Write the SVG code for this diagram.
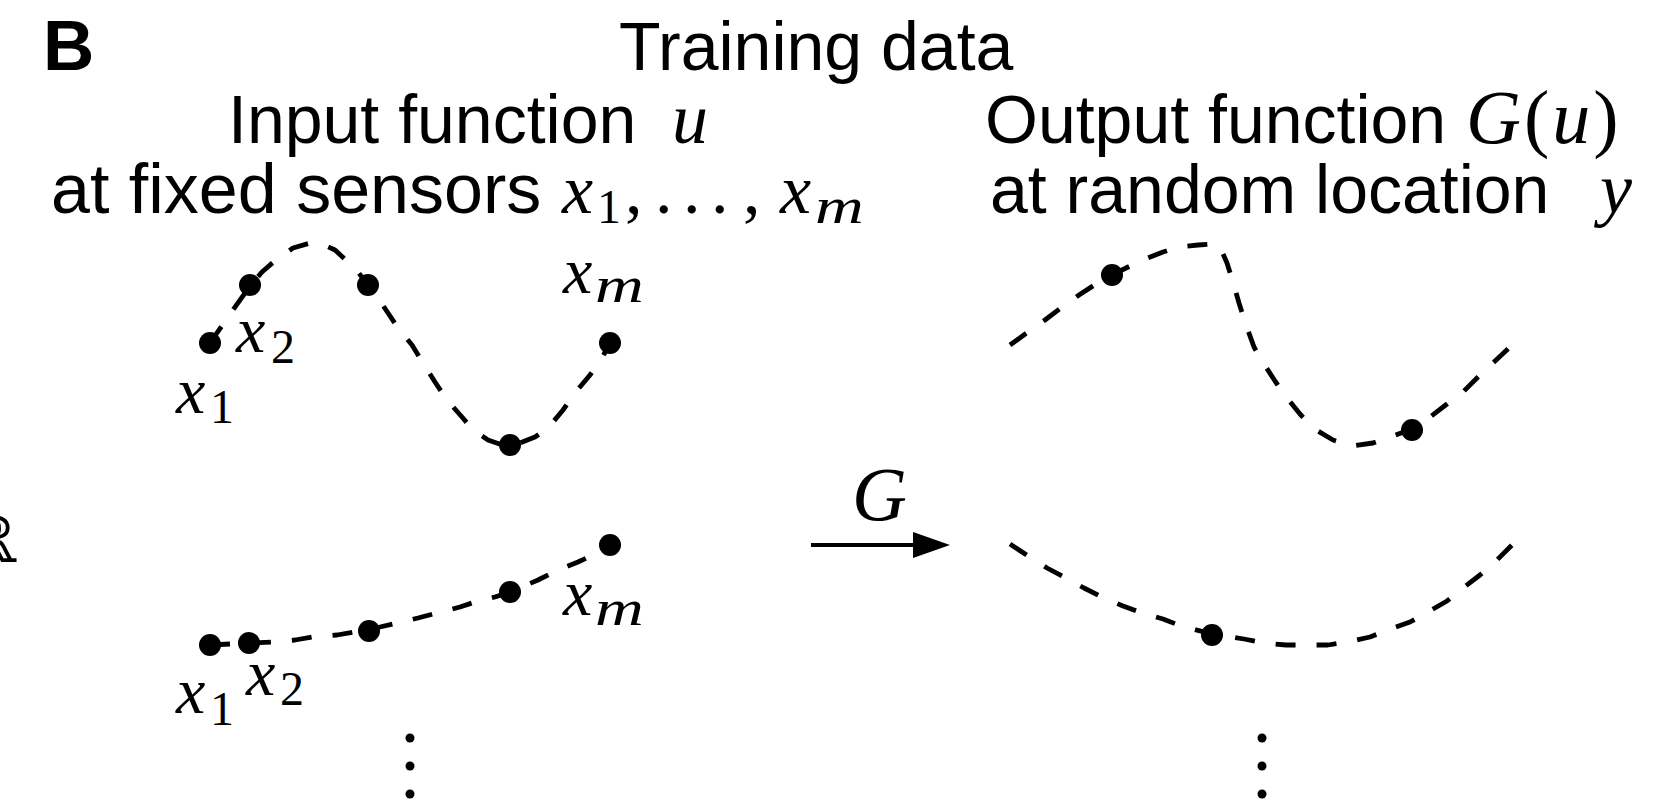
<svg xmlns="http://www.w3.org/2000/svg" width="1670" height="802" viewBox="0 0 1670 802">
<style>
.sans{font-family:"Liberation Sans",Arial,sans-serif;fill:#000}
.math{font-family:"Liberation Serif","Times New Roman",serif;font-style:italic;fill:#000}
.rm{font-family:"Liberation Serif","Times New Roman",serif;font-style:normal;fill:#000}
.curve{fill:none;stroke:#000;stroke-width:4.8;stroke-dasharray:20 21;stroke-linejoin:round}
.dot{fill:#000}
</style>
<rect width="1670" height="802" fill="#fff"/>
<g id="headings">
<text class="sans" x="43" y="70" font-size="71" font-weight="bold">B</text>
<text class="sans" x="619" y="70" font-size="68">Training data</text>
<text class="sans" x="228" y="143" font-size="68">Input function</text>
<text class="math" x="672" y="143" font-size="72">u</text>
<text class="sans" x="51" y="213" font-size="70">at fixed sensors</text>
<text class="math" x="562" y="213" font-size="70">x</text>
<text class="rm" x="597" y="223" font-size="48">1</text>
<text class="rm" x="625" y="213" font-size="70">,</text>
<text class="rm" x="655" y="213" font-size="70">.</text>
<text class="rm" x="683" y="213" font-size="70">.</text>
<text class="rm" x="711" y="213" font-size="70">.</text>
<text class="rm" x="743" y="213" font-size="70">,</text>
<text class="math" x="780" y="213" font-size="70">x</text>
<text class="math" transform="translate(815,223) scale(1.35,1)" font-size="50">m</text>
<text class="sans" x="985" y="143" font-size="68">Output function</text>
<text class="math" x="1466" y="143" font-size="76" letter-spacing="3">G<tspan class="rm">(</tspan>u<tspan class="rm">)</tspan></text>
<text class="sans" x="990" y="213" font-size="68">at random location</text>
<text class="math" x="1600" y="213" font-size="72">y</text>
<text x="-37" y="562" font-family="DejaVu Serif,serif" font-size="64">ℝ</text>
</g>
<g id="connectors">
<line x1="811" y1="545" x2="916" y2="545" stroke="#000" stroke-width="4"/>
<polygon points="913,532 950,545 913,558" fill="#000"/>
<text class="math" x="852" y="520" font-size="76">G</text>
</g>
<g id="input1">
<path class="curve" d="M210,343 L230,314 L250,286 L262,272 L277,259 L293,248 L310,243 L322,244 L335,250 L348,262 L358,272 L368,285 L378,298 L388,313 L398,328 L412,345 L423,363 L435,382 L447,400 L462,417 L473,430 L488,440 L505,446 L520,443 L535,437 L548,428 L563,410 L575,393 L590,375 L602,358 L610,343"/>
<circle class="dot" cx="210" cy="343" r="11"/>
<circle class="dot" cx="250" cy="285" r="11"/>
<circle class="dot" cx="368" cy="285" r="11"/>
<circle class="dot" cx="510" cy="445" r="11"/>
<circle class="dot" cx="610" cy="343" r="11"/>
<text class="math" x="236" y="352" font-size="66">x</text>
<text class="rm" x="271" y="363" font-size="48">2</text>
<text class="math" x="176" y="413" font-size="66">x</text>
<text class="rm" x="210" y="423" font-size="48">1</text>
<text class="math" x="563" y="293" font-size="66">x</text>
<text class="math" transform="translate(595,302) scale(1.35,1)" font-size="50">m</text>
</g>
<g id="output1">
<path class="curve" d="M1010,345 L1028,332 L1045,320 L1062,307 L1079,295 L1096,284 L1112,275 L1128,267 L1145,259 L1163,252 L1180,247 L1198,245 L1213,244 L1220,247 L1227,263 L1233,282 L1239,303 L1246,325 L1254,347 L1264,364 L1275,381 L1287,398 L1300,414 L1313,428 L1333,440 L1352,446 L1373,443 L1393,436 L1412,429 L1430,417 L1447,404 L1464,391 L1479,376 L1494,362 L1512,345"/>
<circle class="dot" cx="1112" cy="275" r="11"/>
<circle class="dot" cx="1412" cy="430" r="11"/>
</g>
<g id="input2">
<path class="curve" d="M210,645 L230,644 L250,643 L273,642 L295,640 L313,637 L337,635 L355,632 L369,630 L380,627 L397,623 L418,618 L437,613 L460,607 L478,601 L495,597 L510,592 L538,580 L558,570 L578,562 L597,553 L610,545"/>
<circle class="dot" cx="210" cy="645" r="11"/>
<circle class="dot" cx="249" cy="643" r="11"/>
<circle class="dot" cx="369" cy="631" r="11"/>
<circle class="dot" cx="510" cy="592" r="11"/>
<circle class="dot" cx="610" cy="545" r="11"/>
<text class="math" x="176" y="713" font-size="66">x</text>
<text class="rm" x="210" y="725" font-size="48">1</text>
<text class="math" x="246" y="695" font-size="66">x</text>
<text class="rm" x="280" y="705" font-size="48">2</text>
<text class="math" x="563" y="615" font-size="66">x</text>
<text class="math" transform="translate(595,625) scale(1.35,1)" font-size="50">m</text>
</g>
<g id="output2">
<path class="curve" d="M1010,544 L1028,556 L1047,568 L1064,577 L1084,588 L1102,597 L1123,606 L1142,613 L1163,619 L1181,626 L1212,634 L1244,639 L1264,643 L1286,645 L1306,645 L1328,645 L1348,642 L1370,637 L1388,630 L1410,622 L1428,612 L1447,601 L1463,588 L1480,575 L1496,561 L1512,545"/>
<circle class="dot" cx="1212" cy="635" r="11"/>
</g>
<g id="ellipsis">
<circle class="dot" cx="410" cy="738" r="4.5"/>
<circle class="dot" cx="410" cy="766" r="4.5"/>
<circle class="dot" cx="410" cy="794" r="4.5"/>
<circle class="dot" cx="1262" cy="738" r="4.5"/>
<circle class="dot" cx="1262" cy="766" r="4.5"/>
<circle class="dot" cx="1262" cy="794" r="4.5"/>
</g>
</svg>
